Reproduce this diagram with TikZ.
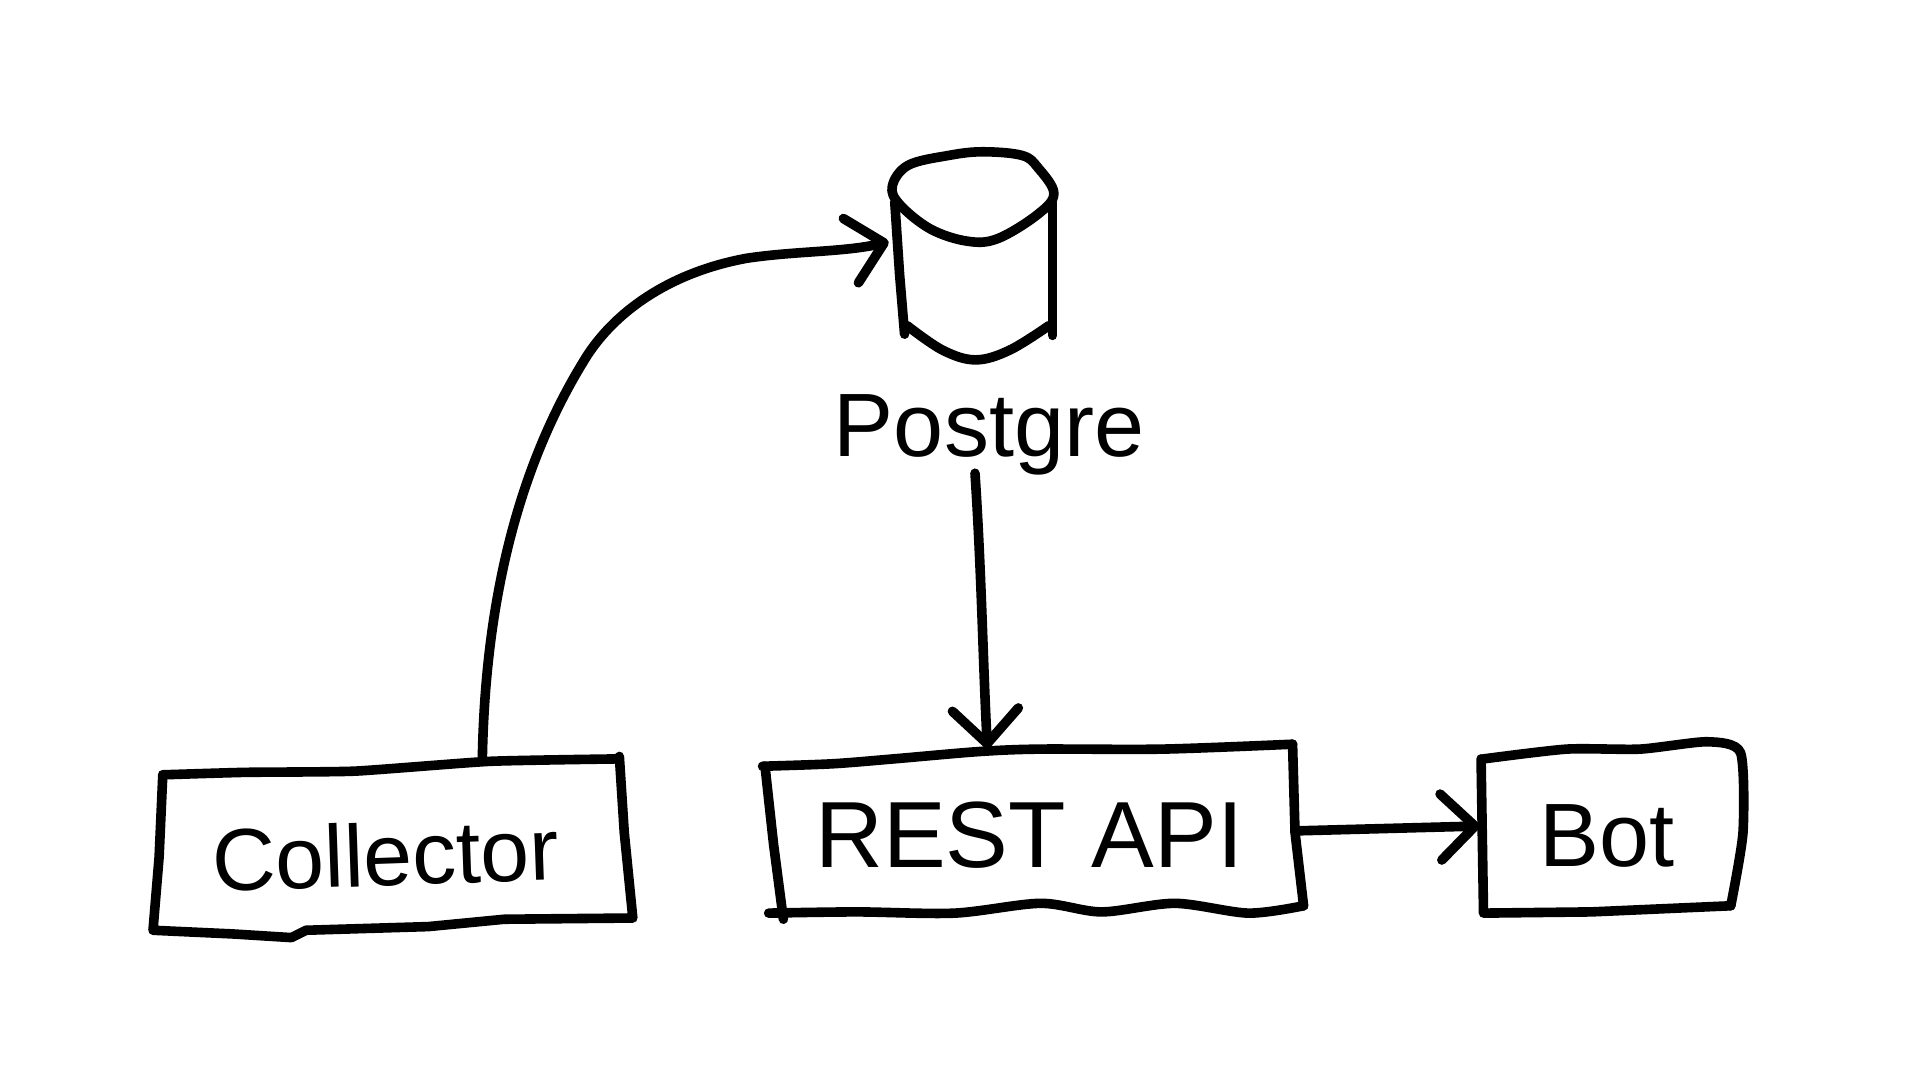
\documentclass[tikz,border=0pt]{standalone}
\usepackage{fontspec}
\setmainfont{Liberation Sans}
\usetikzlibrary{arrows.meta}

\tikzset{
    pen/.style={line width=4.8pt, line cap=round, line join=round},
    flow/.style={pen, -{Straight Barb[round,length=17pt,width=33pt,line width=4.8pt]}},
    label/.style={inner sep=0pt, font=\fontsize{45}{54}\selectfont},
}

\begin{document}
\begin{tikzpicture}[x=0.612pt,y=-0.612pt]
    \useasboundingbox (0,0) rectangle (1568.6,882.4);

    % Postgre cylinder
    \node[minimum width=84pt,minimum height=105pt] (db) at (795,209) {};
    \draw[pen] plot[smooth cycle,tension=0.6] coordinates {(729,152) (742,135) (775,127) (803,124) (835,127) (848,137) (861,158)
        (848,175) (815,195) (790,197) (760,187) (735,167)};
    \draw[pen] (731,165) -- (735,225) -- (739,273);
    \draw[pen] (860,165) -- (860,274);
    \draw[pen] plot[smooth,tension=0.6] coordinates {(741,266) (770,286) (797,294) (825,286) (857,266)};
    \node[label] (postgre) at (808,355) {Postgre};

    % Collector box
    \draw[pen] plot[smooth,tension=0.3] coordinates {(133,633) (200,631) (290,630) (400,622) (505,620)};
    \draw[pen] (506,618) -- (510,680) -- (517,750) -- (412,751) -- (350,757) -- (250,760) -- (238,766) -- (190,763) -- (125,760) -- (130,700) -- (133,633);
    \node[label,rotate=2,font=\fontsize{44}{54}\selectfont,minimum width=235pt,minimum height=93pt] (collector) at (315,698) {Collector};

    % REST API box
    \draw[pen] plot[smooth,tension=0.5] coordinates {(623,626) (680,624) (730,620) (800,614) (850,612) (950,612) (1056,608)};
    \draw[pen] (1056,608) -- (1058,680) -- (1065,740);
    \draw[pen] plot[smooth,tension=0.5] coordinates {(1065,740) (1020,746) (960,738) (900,745) (850,738) (780,746) (700,745) (628,746)};
    \draw[pen] (625,626) -- (632,690) -- (640,751);
    \node[label,font=\fontsize{47}{54}\selectfont,minimum width=270pt,minimum height=86pt] (restapi) at (841,682) {REST API};

    % Bot box
    \draw[pen] plot[smooth,tension=0.4] coordinates {(1212,620) (1280,612) (1340,612) (1395,606) (1422,615) (1424,680) (1414,740)};
    \draw[pen] (1414,740) -- (1300,745) -- (1212,746) -- (1210,620);
    \node[label,minimum width=127pt,minimum height=80pt] (bot) at (1313,683) {Bot};

    % Connectors
    \draw[flow] ([xshift=50pt]collector.north) .. controls (396,500) and (420,385) .. (480,290)
        .. controls (505,252) and (550,222) .. (610,211)
        .. controls (650,205) and (690,206) .. ([yshift=7pt]db.west);
    \draw[flow] ([xshift=-7pt,yshift=1pt]postgre.south) .. controls (802,470) and (803,540) .. ([xshift=-21pt]restapi.north);
    \draw[flow] ([yshift=2pt]restapi.east) -- ([yshift=5pt]bot.west);
\end{tikzpicture}
\end{document}
